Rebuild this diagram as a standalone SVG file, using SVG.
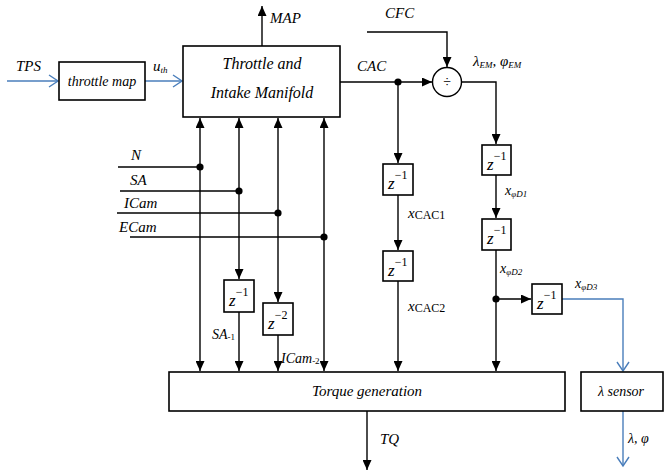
<svg xmlns="http://www.w3.org/2000/svg" width="664" height="472" viewBox="0 0 664 472" font-family="Liberation Serif, Times New Roman, DejaVu Serif, serif">
<defs>
<marker id="ah" markerUnits="userSpaceOnUse" markerWidth="10" markerHeight="9" refX="10" refY="4.5" orient="auto">
<path d="M0,0 L10,4.5 L0,9 z" fill="#000"/>
</marker>
<marker id="bh" markerUnits="userSpaceOnUse" markerWidth="12" markerHeight="14" refX="10" refY="7" orient="auto">
<path d="M1,1 L10,7 L1,13" fill="none" stroke="#4a7ebb" stroke-width="1.4"/>
</marker>
</defs>
<style>
.box{fill:#fff;stroke:#000;stroke-width:1.6}
.ln{fill:none;stroke:#000;stroke-width:1.4}
.ar{fill:none;stroke:#000;stroke-width:1.4;marker-end:url(#ah)}
.bl{fill:none;stroke:#4a7ebb;stroke-width:1.4;marker-end:url(#bh)}
text{font-family:"Liberation Serif","Times New Roman","DejaVu Serif",serif;fill:#000}
.it{font-style:italic}
.lb{font-size:15px;font-style:italic}
.zz{font-size:17px;font-style:italic}
.sp{font-size:12px}
.sub{font-size:9px}
.dot{fill:#000}
</style>
<g id="connectors">
<line class="bl" x1="7" y1="81" x2="58" y2="81"/>
<line class="bl" x1="145" y1="81" x2="182" y2="81"/>
<line class="ar" x1="262" y1="46" x2="262" y2="6"/>
<line class="ln" x1="118" y1="167" x2="200" y2="167"/>
<line class="ln" x1="120" y1="191" x2="239" y2="191"/>
<line class="ln" x1="117" y1="213" x2="278" y2="213"/>
<line class="ln" x1="130" y1="237" x2="324" y2="237"/>
<line class="ar" x1="200" y1="167" x2="200" y2="118"/>
<line class="ar" x1="200" y1="167" x2="200" y2="371"/>
<line class="ar" x1="239" y1="191" x2="239" y2="118"/>
<line class="ar" x1="239" y1="191" x2="239" y2="279"/>
<line class="ar" x1="239" y1="312" x2="239" y2="371"/>
<line class="ar" x1="278" y1="213" x2="278" y2="118"/>
<line class="ar" x1="278" y1="213" x2="278" y2="302"/>
<line class="ar" x1="278" y1="335" x2="278" y2="371"/>
<line class="ar" x1="324" y1="237" x2="324" y2="118"/>
<line class="ar" x1="324" y1="237" x2="324" y2="371"/>
<line class="ar" x1="340" y1="82" x2="432" y2="82"/>
<polyline class="ar" points="367,32 447,32 447,67"/>
<polyline class="ar" points="462,82 496,82 496,144"/>
<line class="ar" x1="398" y1="82" x2="398" y2="163"/>
<line class="ar" x1="398" y1="195" x2="398" y2="250"/>
<line class="ar" x1="398" y1="281" x2="398" y2="371"/>
<line class="ar" x1="496" y1="175" x2="496" y2="218"/>
<line class="ar" x1="496" y1="250" x2="496" y2="371"/>
<line class="ar" x1="496" y1="299" x2="531" y2="299"/>
<polyline class="bl" points="562,299 623,299 623,371"/>
<line class="bl" x1="623" y1="411" x2="623" y2="466"/>
<line class="ar" x1="367" y1="411" x2="367" y2="470"/>
<circle class="dot" cx="200" cy="167" r="3.6"/>
<circle class="dot" cx="239" cy="191" r="3.6"/>
<circle class="dot" cx="278" cy="213" r="3.6"/>
<circle class="dot" cx="324" cy="237" r="3.6"/>
<circle class="dot" cx="398" cy="82" r="3.6"/>
<circle class="dot" cx="496" cy="299" r="3.6"/>
</g>
<g id="labels">
<text class="lb" x="16" y="71" font-size="16">TPS</text>
<text class="it" x="153" y="71" font-size="15">u<tspan class="sub" dy="2">th</tspan></text>
<text class="lb" x="270" y="23">MAP</text>
<text class="lb" x="385" y="18">CFC</text>
<text class="lb" x="357" y="71">CAC</text>
<text class="it" x="473" y="66" font-size="15">λ<tspan class="sub" dy="2">EM</tspan><tspan dy="-2">, φ</tspan><tspan class="sub" dy="2">EM</tspan></text>
<text class="lb" x="131" y="160">N</text>
<text class="lb" x="130" y="185">SA</text>
<text class="lb" x="124" y="208">ICam</text>
<text class="lb" x="119" y="232">ECam</text>
<text class="it" x="408" y="218" font-size="15">x<tspan class="sp" font-style="normal" dy="1">CAC1</tspan></text>
<text class="it" x="408" y="311" font-size="15">x<tspan class="sp" font-style="normal" dy="1">CAC2</tspan></text>
<text class="it" x="505" y="195" font-size="14">x<tspan class="sub" dy="2">φD1</tspan></text>
<text class="it" x="500" y="273" font-size="14">x<tspan class="sub" dy="2">φD2</tspan></text>
<text class="it" x="575" y="288" font-size="14">x<tspan class="sub" dy="2">φD3</tspan></text>
<text class="it" x="212" y="339" font-size="14">SA<tspan class="sub" font-style="normal" dy="1">-1</tspan></text>
<text class="it" x="281" y="363" font-size="14">ICam<tspan class="sub" font-style="normal" dy="1">-2</tspan></text>
<text class="lb" x="380" y="444">TQ</text>
<text class="it" x="628" y="443" font-size="14">λ, φ</text>
</g>
<g id="throttle-map">
<rect class="box" x="59" y="62" width="86" height="38"/>
<text class="it" x="102" y="86" font-size="14" text-anchor="middle">throttle map</text>
</g>
<g id="throttle-intake">
<rect class="box" x="183" y="46" width="157" height="71"/>
<text class="it" x="262" y="69" font-size="16" text-anchor="middle">Throttle and</text>
<text class="it" x="262" y="98" font-size="16" text-anchor="middle">Intake Manifold</text>
</g>
<g id="divider">
<circle cx="447" cy="82" r="14.5" fill="#fff" stroke="#000" stroke-width="1.4"/>
<text x="447" y="87" font-size="14" text-anchor="middle">÷</text>
</g>
<g id="z-cac1"><rect class="box" x="383" y="164" width="30" height="31"/><text class="zz" x="388" y="189">z<tspan class="sp" font-style="normal" dy="-10">−1</tspan></text></g>
<g id="z-cac2"><rect class="box" x="383" y="251" width="30" height="30"/><text class="zz" x="388" y="276">z<tspan class="sp" font-style="normal" dy="-10">−1</tspan></text></g>
<g id="z-phi1"><rect class="box" x="482" y="145" width="29" height="30"/><text class="zz" x="487" y="170">z<tspan class="sp" font-style="normal" dy="-10">−1</tspan></text></g>
<g id="z-phi2"><rect class="box" x="482" y="219" width="29" height="31"/><text class="zz" x="487" y="244">z<tspan class="sp" font-style="normal" dy="-10">−1</tspan></text></g>
<g id="z-phi3"><rect class="box" x="532" y="284" width="30" height="30"/><text class="zz" x="537" y="309">z<tspan class="sp" font-style="normal" dy="-10">−1</tspan></text></g>
<g id="z-sa"><rect class="box" x="224" y="280" width="30" height="32"/><text class="zz" x="229" y="306">z<tspan class="sp" font-style="normal" dy="-10">−1</tspan></text></g>
<g id="z-icam"><rect class="box" x="263" y="303" width="30" height="32"/><text class="zz" x="268" y="329">z<tspan class="sp" font-style="normal" dy="-10">−2</tspan></text></g>
<g id="torque">
<rect class="box" x="169" y="372" width="396" height="39"/>
<text class="it" x="367" y="396" font-size="15" text-anchor="middle">Torque generation</text>
</g>
<g id="lambda-sensor">
<rect class="box" x="581" y="372" width="82" height="39"/>
<text class="it" x="621" y="396" font-size="14" text-anchor="middle">λ sensor</text>
</g>
</svg>
